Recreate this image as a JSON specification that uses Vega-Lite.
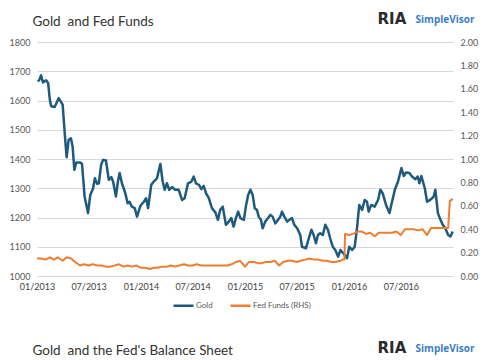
{
  "$schema": "https://vega.github.io/schema/vega-lite/v6.json",
  "background": "white",
  "padding": {"left": 9, "top": 11, "right": 5, "bottom": 5},
  "spacing": 49,
  "config": {
    "font": "Lato",
    "view": {"stroke": null},
    "axis": {"labelFont": "Lato", "labelFontSize": 9, "labelColor": "#595959", "ticks": false, "domain": false, "gridColor": "#D9D9D9", "gridWidth": 1, "labelOverlap": false, "labelFlush": false}
  },
  "datasets": {
    "gold": [
      {"date":"2013-01-04","gold":1665},{"date":"2013-01-10","gold":1672},{"date":"2013-01-15","gold":1686},{"date":"2013-01-22","gold":1662},{"date":"2013-02-02","gold":1669},{"date":"2013-02-09","gold":1660},{"date":"2013-02-15","gold":1603},{"date":"2013-02-20","gold":1580},{"date":"2013-03-04","gold":1578},{"date":"2013-03-18","gold":1608},{"date":"2013-04-01","gold":1586},{"date":"2013-04-10","gold":1466},{"date":"2013-04-15","gold":1406},{"date":"2013-04-22","gold":1466},{"date":"2013-04-30","gold":1471},{"date":"2013-05-06","gold":1443},{"date":"2013-05-12","gold":1363},{"date":"2013-05-19","gold":1388},{"date":"2013-06-02","gold":1388},{"date":"2013-06-08","gold":1383},{"date":"2013-06-17","gold":1272},{"date":"2013-06-29","gold":1215},{"date":"2013-07-07","gold":1277},{"date":"2013-07-17","gold":1300},{"date":"2013-07-23","gold":1334},{"date":"2013-07-31","gold":1315},{"date":"2013-08-06","gold":1317},{"date":"2013-08-14","gold":1380},{"date":"2013-08-21","gold":1397},{"date":"2013-08-31","gold":1395},{"date":"2013-09-10","gold":1329},{"date":"2013-09-19","gold":1338},{"date":"2013-09-25","gold":1323},{"date":"2013-10-05","gold":1272},{"date":"2013-10-12","gold":1323},{"date":"2013-10-18","gold":1352},{"date":"2013-10-26","gold":1317},{"date":"2013-11-07","gold":1283},{"date":"2013-11-15","gold":1249},{"date":"2013-11-22","gold":1254},{"date":"2013-11-30","gold":1237},{"date":"2013-12-10","gold":1232},{"date":"2013-12-18","gold":1203},{"date":"2013-12-30","gold":1240},
      {"date":"2014-01-11","gold":1254},{"date":"2014-01-19","gold":1266},{"date":"2014-01-26","gold":1232},{"date":"2014-02-06","gold":1312},{"date":"2014-02-15","gold":1323},{"date":"2014-02-26","gold":1334},{"date":"2014-03-10","gold":1383},{"date":"2014-03-18","gold":1323},{"date":"2014-03-25","gold":1295},{"date":"2014-04-02","gold":1317},{"date":"2014-04-10","gold":1295},{"date":"2014-04-20","gold":1304},{"date":"2014-05-01","gold":1295},{"date":"2014-05-13","gold":1295},{"date":"2014-05-25","gold":1260},{"date":"2014-06-03","gold":1266},{"date":"2014-06-15","gold":1317},{"date":"2014-06-27","gold":1323},{"date":"2014-07-05","gold":1340},{"date":"2014-07-13","gold":1317},{"date":"2014-07-23","gold":1312},{"date":"2014-08-01","gold":1297},{"date":"2014-08-09","gold":1308},{"date":"2014-08-17","gold":1283},{"date":"2014-08-27","gold":1266},{"date":"2014-09-07","gold":1232},{"date":"2014-09-19","gold":1217},{"date":"2014-09-28","gold":1192},{"date":"2014-10-06","gold":1226},{"date":"2014-10-15","gold":1237},{"date":"2014-10-26","gold":1175},{"date":"2014-11-05","gold":1186},{"date":"2014-11-14","gold":1198},{"date":"2014-11-22","gold":1169},{"date":"2014-11-30","gold":1198},{"date":"2014-12-08","gold":1220},{"date":"2014-12-16","gold":1198},{"date":"2014-12-28","gold":1192},
      {"date":"2015-01-05","gold":1243},{"date":"2015-01-12","gold":1277},{"date":"2015-01-20","gold":1295},{"date":"2015-01-28","gold":1277},{"date":"2015-02-04","gold":1232},{"date":"2015-02-12","gold":1226},{"date":"2015-02-18","gold":1203},{"date":"2015-02-26","gold":1192},{"date":"2015-03-04","gold":1163},{"date":"2015-03-13","gold":1186},{"date":"2015-03-23","gold":1198},{"date":"2015-03-31","gold":1209},{"date":"2015-04-08","gold":1203},{"date":"2015-04-17","gold":1180},{"date":"2015-04-27","gold":1192},{"date":"2015-05-05","gold":1203},{"date":"2015-05-11","gold":1220},{"date":"2015-05-19","gold":1203},{"date":"2015-05-29","gold":1186},{"date":"2015-06-06","gold":1192},{"date":"2015-06-15","gold":1198},{"date":"2015-06-23","gold":1175},{"date":"2015-07-03","gold":1163},{"date":"2015-07-14","gold":1140},{"date":"2015-07-20","gold":1100},{"date":"2015-08-03","gold":1095},{"date":"2015-08-13","gold":1129},{"date":"2015-08-22","gold":1158},{"date":"2015-08-30","gold":1140},{"date":"2015-09-07","gold":1112},{"date":"2015-09-14","gold":1140},{"date":"2015-09-22","gold":1146},{"date":"2015-10-01","gold":1140},{"date":"2015-10-10","gold":1175},{"date":"2015-10-19","gold":1158},{"date":"2015-10-27","gold":1129},{"date":"2015-11-05","gold":1100},{"date":"2015-11-14","gold":1089},{"date":"2015-11-24","gold":1066},{"date":"2015-12-02","gold":1089},{"date":"2015-12-14","gold":1075},{"date":"2015-12-25","gold":1061},
      {"date":"2016-01-02","gold":1100},{"date":"2016-01-12","gold":1089},{"date":"2016-01-21","gold":1100},{"date":"2016-01-29","gold":1163},{"date":"2016-02-06","gold":1243},{"date":"2016-02-16","gold":1226},{"date":"2016-02-25","gold":1260},{"date":"2016-03-04","gold":1254},{"date":"2016-03-10","gold":1220},{"date":"2016-03-19","gold":1243},{"date":"2016-03-31","gold":1237},{"date":"2016-04-12","gold":1260},{"date":"2016-04-20","gold":1295},{"date":"2016-04-28","gold":1283},{"date":"2016-05-10","gold":1243},{"date":"2016-05-22","gold":1215},{"date":"2016-05-31","gold":1254},{"date":"2016-06-10","gold":1295},{"date":"2016-06-21","gold":1323},{"date":"2016-07-03","gold":1369},{"date":"2016-07-11","gold":1342},{"date":"2016-07-19","gold":1354},{"date":"2016-07-31","gold":1352},{"date":"2016-08-09","gold":1340},{"date":"2016-08-21","gold":1331},{"date":"2016-08-29","gold":1340},{"date":"2016-09-04","gold":1317},{"date":"2016-09-11","gold":1342},{"date":"2016-09-23","gold":1300},{"date":"2016-10-01","gold":1254},{"date":"2016-10-12","gold":1260},{"date":"2016-10-24","gold":1271},{"date":"2016-10-30","gold":1295},{"date":"2016-11-08","gold":1215},{"date":"2016-11-17","gold":1192},{"date":"2016-11-25","gold":1175},{"date":"2016-12-04","gold":1163},{"date":"2016-12-14","gold":1140},{"date":"2016-12-22","gold":1135},{"date":"2016-12-30","gold":1152}
    ],
    "fed": [
      {"date":"2013-01-01","ff":0.15},{"date":"2013-01-15","ff":0.15},{"date":"2013-02-01","ff":0.14},{"date":"2013-02-15","ff":0.16},{"date":"2013-03-01","ff":0.14},{"date":"2013-03-15","ff":0.16},{"date":"2013-04-01","ff":0.13},{"date":"2013-04-15","ff":0.16},{"date":"2013-05-01","ff":0.15},{"date":"2013-05-15","ff":0.12},{"date":"2013-06-01","ff":0.09},{"date":"2013-06-15","ff":0.10},{"date":"2013-07-01","ff":0.09},{"date":"2013-07-15","ff":0.10},{"date":"2013-08-01","ff":0.09},{"date":"2013-08-15","ff":0.09},{"date":"2013-09-01","ff":0.08},{"date":"2013-09-15","ff":0.08},{"date":"2013-10-01","ff":0.09},{"date":"2013-10-15","ff":0.10},{"date":"2013-11-01","ff":0.08},{"date":"2013-11-15","ff":0.09},{"date":"2013-12-01","ff":0.08},{"date":"2013-12-15","ff":0.09},
      {"date":"2014-01-01","ff":0.07},{"date":"2014-01-15","ff":0.07},{"date":"2014-02-01","ff":0.06},{"date":"2014-02-15","ff":0.07},{"date":"2014-03-01","ff":0.07},{"date":"2014-03-15","ff":0.08},{"date":"2014-04-01","ff":0.08},{"date":"2014-04-15","ff":0.09},{"date":"2014-05-01","ff":0.08},{"date":"2014-05-15","ff":0.09},{"date":"2014-06-01","ff":0.10},{"date":"2014-06-15","ff":0.09},{"date":"2014-07-01","ff":0.09},{"date":"2014-07-15","ff":0.10},{"date":"2014-08-01","ff":0.09},{"date":"2014-08-15","ff":0.09},{"date":"2014-09-01","ff":0.09},{"date":"2014-09-15","ff":0.09},{"date":"2014-10-01","ff":0.09},{"date":"2014-10-15","ff":0.09},{"date":"2014-11-01","ff":0.09},{"date":"2014-11-15","ff":0.10},{"date":"2014-12-01","ff":0.12},{"date":"2014-12-15","ff":0.13},
      {"date":"2015-01-01","ff":0.08},{"date":"2015-01-15","ff":0.12},{"date":"2015-02-01","ff":0.12},{"date":"2015-02-15","ff":0.11},{"date":"2015-03-01","ff":0.11},{"date":"2015-03-15","ff":0.12},{"date":"2015-04-01","ff":0.12},{"date":"2015-04-15","ff":0.13},{"date":"2015-05-01","ff":0.09},{"date":"2015-05-15","ff":0.12},{"date":"2015-06-01","ff":0.13},{"date":"2015-06-15","ff":0.13},{"date":"2015-07-01","ff":0.12},{"date":"2015-07-15","ff":0.13},{"date":"2015-08-01","ff":0.14},{"date":"2015-08-15","ff":0.15},{"date":"2015-09-01","ff":0.14},{"date":"2015-09-15","ff":0.14},{"date":"2015-10-01","ff":0.13},{"date":"2015-10-15","ff":0.13},{"date":"2015-11-01","ff":0.12},{"date":"2015-11-15","ff":0.12},{"date":"2015-12-01","ff":0.13},{"date":"2015-12-10","ff":0.14},{"date":"2015-12-16","ff":0.14},{"date":"2015-12-18","ff":0.36},{"date":"2015-12-31","ff":0.35},
      {"date":"2016-01-15","ff":0.36},{"date":"2016-02-01","ff":0.38},{"date":"2016-02-15","ff":0.38},{"date":"2016-03-01","ff":0.36},{"date":"2016-03-15","ff":0.37},{"date":"2016-04-01","ff":0.34},{"date":"2016-04-15","ff":0.37},{"date":"2016-05-01","ff":0.37},{"date":"2016-05-15","ff":0.37},{"date":"2016-06-01","ff":0.37},{"date":"2016-06-15","ff":0.38},{"date":"2016-07-01","ff":0.35},{"date":"2016-07-15","ff":0.40},{"date":"2016-08-01","ff":0.40},{"date":"2016-08-15","ff":0.40},{"date":"2016-09-01","ff":0.39},{"date":"2016-09-15","ff":0.40},{"date":"2016-10-01","ff":0.35},{"date":"2016-10-15","ff":0.41},{"date":"2016-11-01","ff":0.41},{"date":"2016-11-15","ff":0.41},{"date":"2016-12-01","ff":0.41},{"date":"2016-12-14","ff":0.41},{"date":"2016-12-20","ff":0.64},{"date":"2016-12-30","ff":0.66}
    ]
  },
  "vconcat": [
    {
      "width": 416,
      "height": 234,
      "layer": [
        {
          "data": {"name": "gold"},
          "mark": {"type": "line", "strokeWidth": 2.5, "strokeJoin": "round"},
          "encoding": {
            "x": {"field": "date", "type": "temporal",
              "scale": {"domain": ["2013-01-01", "2016-12-31"]},
              "axis": {"values": [{"year":2013,"month":1,"date":1},{"year":2013,"month":7,"date":1},{"year":2014,"month":1,"date":1},{"year":2014,"month":7,"date":1},{"year":2015,"month":1,"date":1},{"year":2015,"month":7,"date":1},{"year":2016,"month":1,"date":1},{"year":2016,"month":7,"date":1}],
                "format": "%m/%Y", "grid": false, "labelPadding": 6, "labelColor": "#404040", "labelAlign": "center",
                "title": "Gold\u00a0 and Fed Funds", "titleX": -5, "titleY": -251, "titleAlign": "left", "titleBaseline": "alphabetic",
                "titleFont": "Lato", "titleFontSize": 13.5, "titleFontWeight": "normal", "titleColor": "#333333"}},
            "y": {"field": "gold", "type": "quantitative",
              "scale": {"domain": [1000, 1800]},
              "axis": {"values": [1000,1100,1200,1300,1400,1500,1600,1700,1800], "format": "d", "labelPadding": 7,
                "title": "RIA", "titleAngle": 0, "titleX": 340, "titleY": -19, "titleAlign": "left", "titleBaseline": "alphabetic",
                "titleFont": "DejaVu Sans", "titleFontSize": 15, "titleFontWeight": "bold", "titleColor": "#2B2B2B"}},
            "color": {"datum": "Gold",
              "scale": {"domain": ["Gold", "Fed Funds (RHS)"], "range": ["#1E5A7E", "#ED7D31"]},
              "legend": {"orient": "none", "legendX": 135, "legendY": 252, "direction": "horizontal", "title": null,
                "symbolType": "stroke", "symbolSize": 400, "symbolStrokeWidth": 2.5,
                "labelFontSize": 8, "labelColor": "#595959", "labelFont": "Lato", "columnPadding": 12, "labelOffset": 1}}
          }
        },
        {
          "data": {"name": "fed"},
          "mark": {"type": "line", "strokeWidth": 2, "strokeJoin": "round"},
          "encoding": {
            "x": {"field": "date", "type": "temporal"},
            "y": {"field": "ff", "type": "quantitative",
              "scale": {"domain": [0, 2]},
              "axis": {"orient": "right", "grid": false, "format": ".2f", "values": [0,0.2,0.4,0.6,0.8,1,1.2,1.4,1.6,1.8,2], "labelPadding": 7,
                "title": "SimpleVisor", "titleAngle": 0, "titleX": -38, "titleY": -20, "titleAlign": "left", "titleBaseline": "alphabetic",
                "titleFont": "Open Sans", "titleFontSize": 10, "titleFontWeight": "bold", "titleColor": "#3A7DC9"}},
            "color": {"datum": "Fed Funds (RHS)"}
          }
        }
      ],
      "resolve": {"scale": {"y": "independent"}}
    },
    {
      "width": 416,
      "height": 234,
      "layer": [
        {
          "data": {"name": "gold"},
          "mark": {"type": "line", "strokeWidth": 2.5, "color": "#1E5A7E"},
          "encoding": {
            "x": {"field": "date", "type": "temporal",
              "scale": {"domain": ["2013-01-01", "2016-12-31"]},
              "axis": {"labels": false, "grid": false,
                "title": "Gold\u00a0 and the Fed's Balance Sheet", "titleX": -5, "titleY": -251, "titleAlign": "left", "titleBaseline": "alphabetic",
                "titleFont": "Lato", "titleFontSize": 13.5, "titleFontWeight": "normal", "titleColor": "#333333"}},
            "y": {"field": "gold", "type": "quantitative",
              "scale": {"domain": [1000, 1800]},
              "axis": {"labels": false, "grid": false,
                "title": "RIA", "titleAngle": 0, "titleX": 340, "titleY": -19, "titleAlign": "left", "titleBaseline": "alphabetic",
                "titleFont": "DejaVu Sans", "titleFontSize": 15, "titleFontWeight": "bold", "titleColor": "#2B2B2B"}}
          }
        },
        {
          "data": {"name": "fed"},
          "mark": {"type": "line", "strokeWidth": 2, "color": "#ED7D31"},
          "encoding": {
            "x": {"field": "date", "type": "temporal"},
            "y": {"field": "ff", "type": "quantitative",
              "scale": {"domain": [0, 2]},
              "axis": {"orient": "right", "labels": false, "grid": false,
                "title": "SimpleVisor", "titleAngle": 0, "titleX": -38, "titleY": -20, "titleAlign": "left", "titleBaseline": "alphabetic",
                "titleFont": "Open Sans", "titleFontSize": 10, "titleFontWeight": "bold", "titleColor": "#3A7DC9"}}
          }
        }
      ],
      "resolve": {"scale": {"y": "independent"}}
    }
  ]
}
